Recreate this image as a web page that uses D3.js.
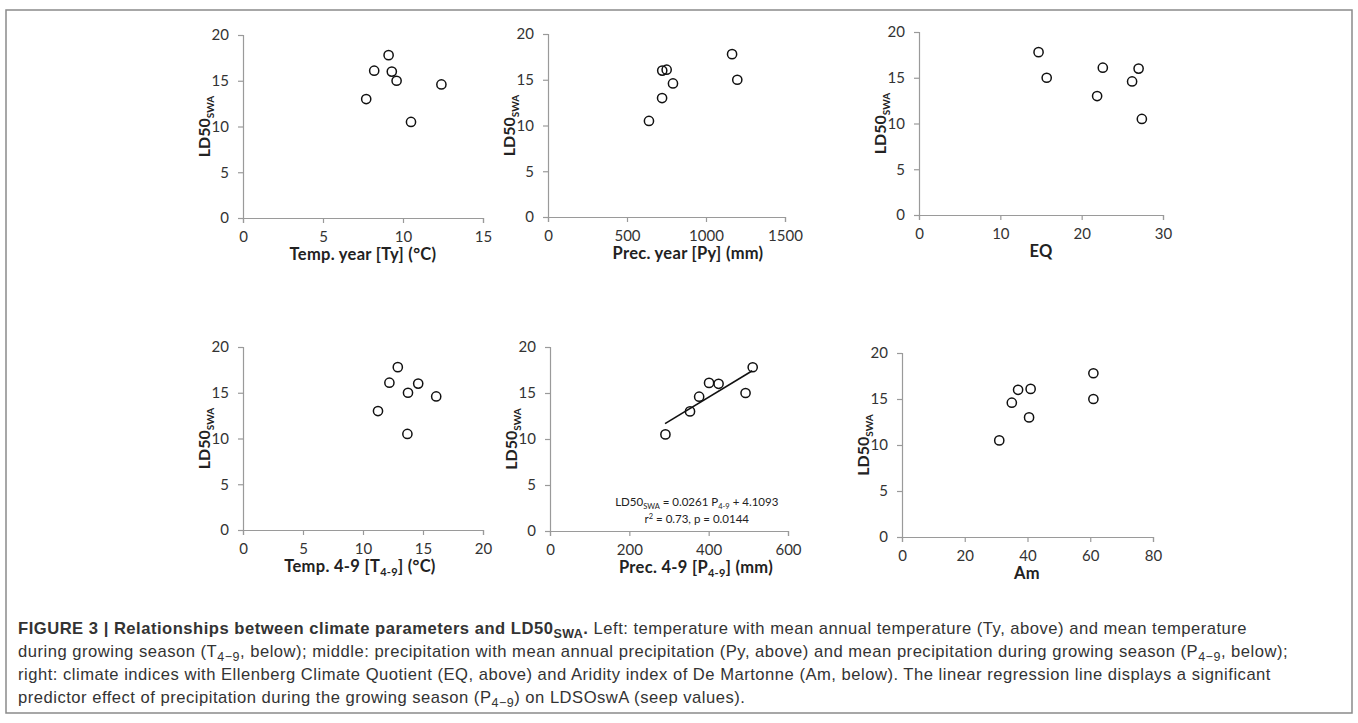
<!DOCTYPE html>
<html><head><meta charset="utf-8">
<script src="https://cdn.jsdelivr.net/npm/d3@7"></script>
<style>
html,body{margin:0;padding:0;background:#fff;}
svg{display:block;}
</style></head>
<body>
<svg id="chart" width="1358" height="723"></svg>
<script>
// ---- data (sites A..G share LD50 values) ----
const ld50     = [17.8, 16.1, 16.0, 15.0, 14.6, 13.0, 10.5];
const tempYear = [9.1, 8.2, 9.3, 9.6, 12.4, 7.7, 10.5];
const precYear = [1165, 751, 723, 1198, 791, 722, 639];
const eqIndex  = [14.7, 22.6, 27.0, 15.7, 26.2, 21.9, 27.4];
const temp49   = [12.9, 12.2, 14.6, 13.75, 16.1, 11.25, 13.7];
const prec49   = [511, 401, 425, 493, 376, 353, 291];
const amIndex  = [61, 41, 37, 61, 35, 40.5, 31];
const yTicks   = [0, 5, 10, 15, 20];
const xTicksTy  = [0, 5, 10, 15];
const xTicksPy  = [0, 500, 1000, 1500];
const xTicksEQ  = [0, 10, 20, 30];
const xTicksT49 = [0, 5, 10, 15, 20];
const xTicksP49 = [0, 200, 400, 600];
const xTicksAm  = [0, 20, 40, 60, 80];
const regSlope = 0.0261, regIntercept = 4.1093, regRange = [290, 510];

const panels = [
  {x: tempYear, ticks: xTicksTy,  title: [{t:"Temp. year [Ty] (°C)"}], L:243, R:483, T:35, B:218, tx:363},
  {x: precYear, ticks: xTicksPy,  title: [{t:"Prec. year [Py] (mm)"}], L:548, R:785, T:34, B:217, tx:688},
  {x: eqIndex,  ticks: xTicksEQ,  title: [{t:"EQ"}], L:919, R:1163, T:32, B:215, tx:1041},
  {x: temp49,   ticks: xTicksT49, title: [{t:"Temp. 4-9 [T"},{t:"4-9",sub:true},{t:"] (°C)"}], L:243, R:483, T:347, B:530, tx:360},
  {x: prec49,   ticks: xTicksP49, title: [{t:"Prec. 4-9 [P"},{t:"4-9",sub:true},{t:"] (mm)"}], L:550, R:788, T:347, B:531, tx:696, reg:true},
  {x: amIndex,  ticks: xTicksAm,  title: [{t:"Am"}], L:902, R:1153, T:353, B:537, tx:1027}
];

const svg = d3.select("#chart");
const panelFont = "Lato, 'Open Sans', sans-serif";
const axisCol = "#9a9a9a";

// outer frame
svg.append("rect").attr("x",6).attr("y",10).attr("width",1346).attr("height",703)
  .attr("fill","none").attr("stroke","#8a8a8a").attr("stroke-width",1.5);

function appendSegs(sel, segs, subSize, subDy){
  let inSub=false;
  segs.forEach(s=>{
    const ts = sel.append("tspan").text(s.t);
    if(s.bold) ts.attr("font-weight","bold");
    if(s.sub && !inSub){ ts.attr("dy",subDy); inSub=true; }
    else if(!s.sub && inSub){ ts.attr("dy",-subDy); inSub=false; }
    if(s.sub) ts.attr("font-size",subSize);
  });
}

panels.forEach(p=>{
  const xs = d3.scaleLinear().domain([p.ticks[0], p.ticks[p.ticks.length-1]]).range([p.L, p.R]);
  const ys = d3.scaleLinear().domain([0,20]).range([p.B, p.T]);
  const g = svg.append("g");

  const yAxis = g.append("g").attr("transform",`translate(${p.L},0)`)
    .call(d3.axisLeft(ys).tickValues(yTicks).tickSize(5).tickPadding(9).tickFormat(d3.format("d")));
  const xAxis = g.append("g").attr("transform",`translate(0,${p.B})`)
    .call(d3.axisBottom(xs).tickValues(p.ticks).tickSize(5).tickPadding(8).tickFormat(d3.format("d")));
  [yAxis,xAxis].forEach(a=>{
    a.select(".domain").attr("stroke",axisCol).attr("stroke-width",1.2);
    a.selectAll(".tick line").attr("stroke",axisCol).attr("stroke-width",1.2);
    a.selectAll(".tick text").attr("fill","#333").attr("font-size",15).attr("font-family",panelFont);
  });

  // x title
  const xt = g.append("text").attr("x",p.tx).attr("y",p.B+42)
    .attr("text-anchor","middle").attr("font-family",panelFont).attr("font-weight","bold")
    .attr("font-size",16.5).attr("letter-spacing",0.3).attr("fill","#222");
  appendSegs(xt, p.title, 11, 4);

  // y title
  const yt = g.append("text")
    .attr("transform",`translate(${p.L-33},${(p.T+p.B)/2}) rotate(-90)`)
    .attr("text-anchor","middle").attr("font-family",panelFont).attr("font-weight","bold")
    .attr("font-size",16).attr("fill","#222");
  appendSegs(yt, [{t:"LD50"},{t:"SWA",sub:true}], 10, 4);

  // regression
  if(p.reg){
    g.append("line")
      .attr("x1",xs(regRange[0])).attr("y1",ys(regSlope*regRange[0]+regIntercept))
      .attr("x2",xs(regRange[1])).attr("y2",ys(regSlope*regRange[1]+regIntercept))
      .attr("stroke","#111").attr("stroke-width",1.6);
    const cx = xs(370);
    const e1 = g.append("text").attr("x",cx).attr("y",ys(2.7)).attr("text-anchor","middle")
      .attr("font-family",panelFont).attr("font-size",11.5).attr("fill","#222");
    appendSegs(e1,[{t:"LD50"},{t:"SWA",sub:true},{t:" = 0.0261 P"},{t:"4-9",sub:true},{t:" + 4.1093"}],7.5,2.5);
    const e2 = g.append("text").attr("x",cx).attr("y",ys(0.9)).attr("text-anchor","middle")
      .attr("font-family",panelFont).attr("font-size",11.5).attr("fill","#222");
    e2.append("tspan").text("r");
    e2.append("tspan").text("2").attr("font-size",7.5).attr("dy",-4);
    e2.append("tspan").text(" = 0.73, p = 0.0144").attr("dy",4);
  }

  // points
  g.selectAll("circle").data(p.x.map((v,i)=>[v, ld50[i]])).enter().append("circle")
    .attr("cx",d=>xs(d[0])).attr("cy",d=>ys(d[1])).attr("r",4.6)
    .attr("fill","none").attr("stroke","#111").attr("stroke-width",1.5);
});

// caption
const capLines = [
  [{t:"FIGURE 3 | Relationships between climate parameters and LD50",bold:true},{t:"SWA",bold:true,sub:true},{t:".",bold:true},{t:" Left: temperature with mean annual temperature (Ty, above) and mean temperature"}],
  [{t:"during growing season (T"},{t:"4−9",sub:true},{t:", below); middle: precipitation with mean annual precipitation (Py, above) and mean precipitation during growing season (P"},{t:"4−9",sub:true},{t:", below);"}],
  [{t:"right: climate indices with Ellenberg Climate Quotient (EQ, above) and Aridity index of De Martonne (Am, below). The linear regression line displays a significant"}],
  [{t:"predictor effect of precipitation during the growing season (P"},{t:"4−9",sub:true},{t:") on LDSOswA (seep values)."}]
];
const capY = [634, 657, 680, 703];
capLines.forEach((segs,i)=>{
  const t = svg.append("text").attr("x",18).attr("y",capY[i])
    .attr("font-family","'Liberation Sans', Arial, sans-serif")
    .attr("font-size",16.6).attr("letter-spacing",0.5).attr("fill","#333");
  appendSegs(t, segs, 12.5, 4);
});
</script>
</body></html>
